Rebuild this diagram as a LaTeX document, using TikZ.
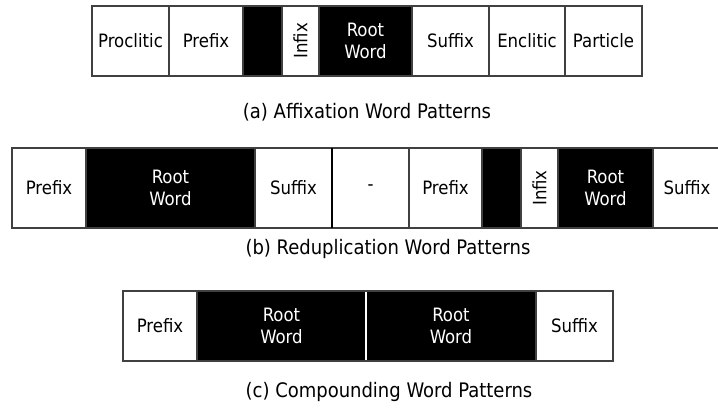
\documentclass[tikz,border=0pt]{standalone}
\usepackage{fontspec}
\setmainfont{DejaVu Sans Condensed}
\newcommand\cellfont{\fontsize{18.4}{22}\selectfont}
\newcommand\capfont{\fontsize{20}{22}\selectfont}
\tikzset{
  cell/.style={draw=black!75, line width=1.1pt, inner sep=0pt, outer sep=0pt,
    anchor=north west, font=\cellfont, align=center},
  wcell/.style={cell, fill=white},
  bcell/.style={cell, fill=black, text=white},
  caption/.style={font=\capfont, inner sep=0pt},
}
\begin{document}
\begin{tikzpicture}[x=1pt, y=-1pt]
\useasboundingbox (0,0) rectangle (718,409);
\clip (0,0) rectangle (718,409);

% (a) affixation
\begin{scope}[every node/.append style={minimum height=70pt}]
\node[wcell, minimum width=77pt] (a1) at (92,6) {Proclitic};
\node[wcell, minimum width=74pt] (a2) at (169,6) {Prefix};
\node[bcell, minimum width=39pt] (a3) at (243,6) {};
\node[wcell, minimum width=37pt] (a4) at (282,6) {\rotatebox{90}{Infix}};
\node[bcell, minimum width=93pt] (a5) at (319,6) {Root\\Word};
\node[wcell, minimum width=77pt] (a6) at (412,6) {Suffix};
\node[wcell, minimum width=76pt] (a7) at (489,6) {Enclitic};
\node[wcell, minimum width=77pt] (a8) at (565,6) {Particle};
\end{scope}
\node[caption] (capa) at (367,112) {(a) Affixation Word Patterns};

% (b) reduplication
\begin{scope}[every node/.append style={minimum height=80pt}]
\node[wcell, minimum width=74pt] (b1) at (12,148) {Prefix};
\node[bcell, minimum width=169pt] (b2) at (86,148) {Root\\Word};
\node[wcell, minimum width=77pt] (b3) at (255,148) {Suffix};
\node[wcell, minimum width=77pt] (b4) at (332,148) {-};
\node[wcell, minimum width=73pt] (b5) at (409,148) {Prefix};
\node[bcell, minimum width=39pt] (b6) at (482,148) {};
\node[wcell, minimum width=37pt] (b7) at (521,148) {\rotatebox{90}{Infix}};
\node[bcell, minimum width=95pt] (b8) at (558,148) {Root\\Word};
\node[wcell, minimum width=68pt] (b9) at (653,148) {Suffix};
\end{scope}
\draw[line width=2.2pt] (b3.north east) -- (b3.south east);
\node[caption] (capb) at (388,249) {(b) Reduplication Word Patterns};

% (c) compounding
\begin{scope}[every node/.append style={minimum height=70pt}]
\node[wcell, minimum width=74pt] (c1) at (123,291) {Prefix};
\node[bcell, minimum width=169pt] (c2) at (197,291) {Root\\Word};
\node[bcell, minimum width=170pt] (c3) at (366,291) {Root\\Word};
\node[wcell, minimum width=77pt] (c4) at (536,291) {Suffix};
\end{scope}
\draw[white, line width=1.3pt] ([yshift=-1pt]c2.north east) -- ([yshift=1pt]c2.south east);
\node[caption] (capc) at (389,392) {(c) Compounding Word Patterns};
\end{tikzpicture}
\end{document}
